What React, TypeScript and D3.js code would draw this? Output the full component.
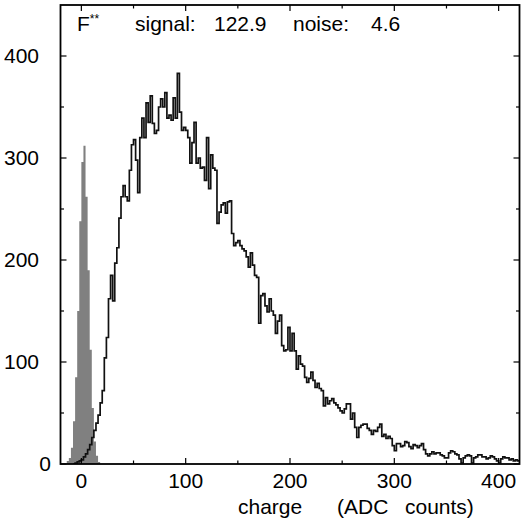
import React from 'react';
import * as d3 from 'd3';

const BIN = 2;
const signalStart = -8;
const signalCounts = [
  0, 1, 2, 3, 4, 7, 10, 14, 19, 26, 33, 40, 48, 60, 72, 104, 124, 162, 185, 160,
  197, 212, 241, 262, 273, 262, 258, 288, 313, 318, 298, 266, 320, 339, 320, 354, 335, 361, 334, 324,
  327, 350, 358, 350, 364, 339, 342, 337, 359, 339, 383, 345, 327, 330, 327, 320, 295, 315, 335, 295,
  300, 290, 291, 278, 320, 270, 303, 290, 288, 236, 247, 254, 256, 246, 257, 258, 226, 214, 217, 219,
  214, 211, 209, 203, 193, 207, 195, 185, 183, 138, 165, 167, 155, 149, 162, 150, 146, 128, 140, 146,
  116, 111, 112, 134, 111, 128, 111, 93, 106, 98, 96, 85, 80, 84, 90, 82, 75, 79, 74, 72,
  57, 65, 59, 62, 64, 60, 58, 55, 52, 50, 54, 59, 59, 44, 50, 36, 26, 36, 38, 39,
  39, 35, 33, 29, 33, 32, 36, 39, 27, 29, 25, 27, 25, 18, 13, 20, 20, 17, 18, 22,
  21, 17, 15, 19, 18, 16, 18, 20, 14, 10, 8, 10, 12, 10, 11, 11, 9, 8, 6, 6,
  11, 13, 12, 10, 9, 5, 1, 6, 8, 9, 8, 1, 6, 7, 9, 9, 7, 7, 5, 6,
  8, 7, 5, 3, 1, 5, 7, 6, 6, 4, 5, 3, 4, 3,
];
const noiseStart = -14;
const noiseCounts = [3, 6, 16, 42, 85, 150, 238, 296, 312, 262, 190, 112, 55, 22, 8, 2];

const xDomain = [-20, 420];
const yDomain = [0, 450];
const xMajor = [0, 100, 200, 300, 400];
const xMinor = [50, 150, 250, 350];
const yMajor = [0, 100, 200, 300, 400];
const yMinor = [50, 150, 250, 350];

const FONT = "'Liberation Sans', Arial, sans-serif";

const L = 60.5, R = 519.5, T = 5, B = 464;

function stepPath(start: number, counts: number[], x: any, y: any, close: boolean) {
  let d = `M${x(start)},${y(0)}`;
  counts.forEach((c, i) => {
    const lo = start + i * BIN;
    d += `H${x(lo)}V${y(c)}H${x(lo + BIN)}`;
  });
  if (close) d += `V${y(0)}Z`;
  return d;
}

export default function App() {
  const x = d3.scaleLinear().domain(xDomain).range([L, R]);
  const y = d3.scaleLinear().domain(yDomain).range([B, T]);
  const major = 6, minor = 3.5;

  return (
    <div style={{ position: 'absolute', left: 0, top: 0 }}>
      <svg width={522} height={522} style={{ display: 'block', background: '#fff' }}>
        <defs>
          <clipPath id="plot">
            <rect x={L} y={T} width={R - L} height={B - T} />
          </clipPath>
        </defs>
        <g clipPath="url(#plot)">
          <path d={stepPath(noiseStart, noiseCounts, x, y, true)} fill="#808080" stroke="none" />
          <path d={stepPath(signalStart, signalCounts, x, y, false)} fill="none" stroke="#111" strokeWidth={1.7} />
        </g>
        {/* ticks */}
        <g stroke="#000" strokeWidth={1.2}>
          {xMajor.map((v) => (
            <g key={'xm' + v}>
              <line x1={x(v)} x2={x(v)} y1={B} y2={B - major} />
              <line x1={x(v)} x2={x(v)} y1={T} y2={T + major} />
            </g>
          ))}
          {xMinor.map((v) => (
            <g key={'xn' + v}>
              <line x1={x(v)} x2={x(v)} y1={B} y2={B - minor} />
              <line x1={x(v)} x2={x(v)} y1={T} y2={T + minor} />
            </g>
          ))}
          {yMajor.map((v) => (
            <g key={'ym' + v}>
              <line x1={L} x2={L + major} y1={y(v)} y2={y(v)} />
              <line x1={R} x2={R - major} y1={y(v)} y2={y(v)} />
            </g>
          ))}
          {yMinor.map((v) => (
            <g key={'yn' + v}>
              <line x1={L} x2={L + minor} y1={y(v)} y2={y(v)} />
              <line x1={R} x2={R - minor} y1={y(v)} y2={y(v)} />
            </g>
          ))}
        </g>
        <rect x={L} y={T} width={R - L} height={B - T} fill="none" stroke="#000" strokeWidth={1.8} />
        {/* tick labels */}
        <g fontFamily={FONT} fontSize={21} fill="#000">
          {xMajor.map((v) => (
            <text key={'xl' + v} x={x(v)} y={488} textAnchor="middle">{v}</text>
          ))}
          {yMajor.map((v) => (
            <text key={'yl' + v} x={v === 0 ? 51 : 39} y={y(v) + 7} textAnchor="end">{v}</text>
          ))}
        </g>
        {/* title */}
        <g fontFamily={FONT} fontSize={21} fill="#000">
          <text x={77} y={31}>F<tspan fontSize={12} dy={-8}>**</tspan></text>
          <text x={135} y={31}>signal:</text>
          <text x={214} y={31}>122.9</text>
          <text x={293} y={31}>noise:</text>
          <text x={371} y={31}>4.6</text>
        </g>
        {/* axis title */}
        <g fontFamily={FONT} fontSize={21} fill="#000">
          <text x={238} y={514}>charge</text>
          <text x={337} y={514}>(ADC</text>
          <text x={405} y={514}>counts)</text>
        </g>
      </svg>
    </div>
  );
}
